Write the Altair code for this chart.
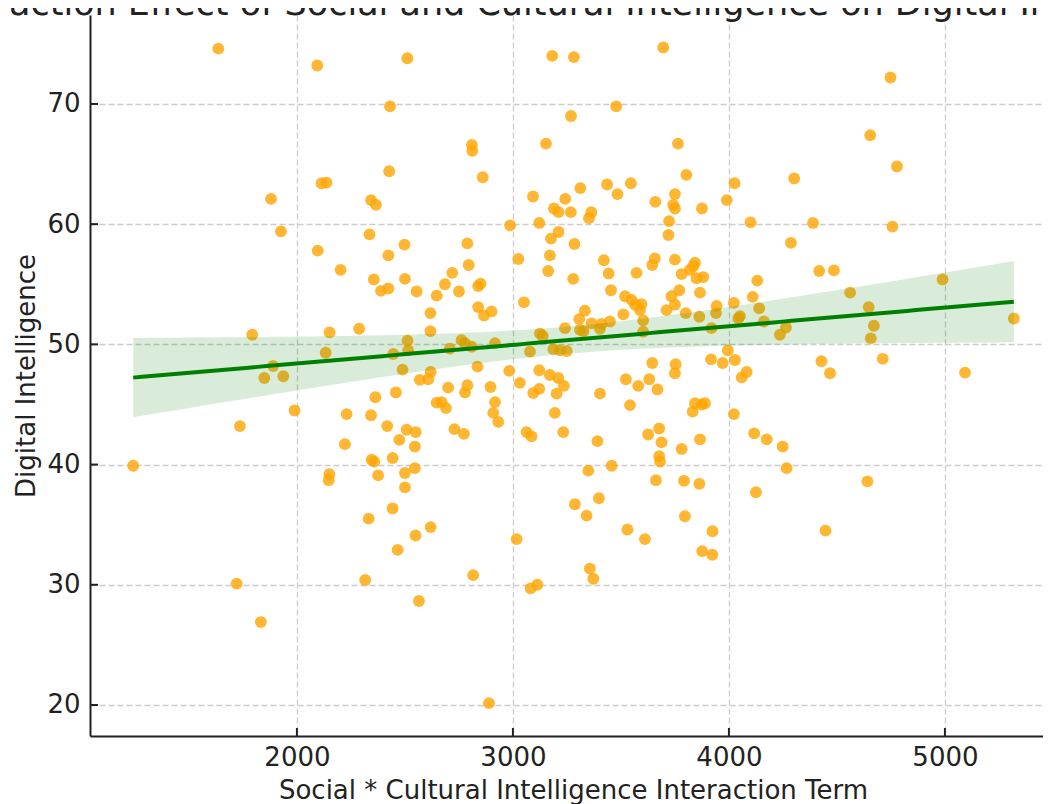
import altair as alt
import numpy as np
import pandas as pd

TITLE = "Interaction Effect of Social and Cultural Intelligence on Digital Intelligence"
X_TITLE = "Social * Cultural Intelligence Interaction Term"
Y_TITLE = "Digital Intelligence"

# ---- data (x = interaction term, y = digital intelligence) ----
top_x = [1636, 2094, 2511, 2431, 2427, 2114, 2137, 1880, 2343, 2366, 1926, 2336, 2498, 2096, 2423,
         3182, 3282, 3696, 3478, 3269, 2810, 2812, 3153, 3764, 2860, 3803, 3436, 3546, 3312, 3484,
         3750, 3093, 3242, 3659, 3990, 3742, 3750, 3875, 3190, 3211, 3268, 3363, 3352, 2987, 3122,
         3723, 3211, 3176, 3720, 2789, 3285,
         4748, 4654, 4778, 4302, 4026, 4100, 4389, 4757, 4287]
top_y = [74.6, 73.2, 73.8, 69.8, 64.4, 63.4, 63.45, 62.1, 62.0, 61.6, 59.4, 59.15, 58.3, 57.8, 57.4,
         74.0, 73.9, 74.7, 69.8, 69.0, 66.6, 66.1, 66.7, 66.7, 63.9, 64.1, 63.3, 63.4, 63.0, 62.5,
         62.5, 62.3, 62.1, 61.85, 62.0, 61.6, 61.3, 61.3, 61.3, 61.0, 61.0, 61.0, 60.5, 59.9, 60.1,
         60.25, 59.35, 58.8, 59.1, 58.4, 58.35,
         72.2, 67.4, 64.8, 63.8, 63.4, 60.15, 60.1, 59.8, 58.45]

left_x = [2202, 2356, 2500, 2389, 2423, 1793, 2151, 2288, 2512, 2515, 2133, 2446, 1890, 1849, 1937,
          2489, 2458, 2363, 1989, 2230, 2343, 2418, 1736, 2508, 2474, 2222, 1242, 2346, 2358, 2443,
          2150, 2147, 2376, 2500, 2500]
left_y = [56.2, 55.4, 55.45, 54.45, 54.65, 50.8, 51.0, 51.3, 50.3, 49.5, 49.3, 49.2, 48.2, 47.2, 47.35,
          47.9, 46.0, 45.6, 44.5, 44.2, 44.1, 43.2, 43.2, 42.9, 42.05, 41.7, 39.9, 40.4, 40.25, 40.55,
          39.2, 38.7, 39.1, 39.3, 38.1]

center_x = [3025, 3171, 3163, 3421, 3443, 3279, 3657, 3645, 3750, 3843, 3835, 3781, 3819, 3881, 3850,
            3572, 2795, 2719, 2554, 2685, 2850, 2839, 2647, 2750, 3454, 3519, 3549, 3770, 3866, 3734,
            3051, 2839, 2866, 2901, 2618, 3595, 3565, 3588, 3603, 3511, 3333, 3307, 3364, 3410, 3449,
            3711, 3750, 3800, 3863, 3943, 3940, 3919, 3603, 3241, 3310, 3326, 3403, 3125, 3138, 2618,
            2708, 2762, 2778, 2809, 2917, 3079, 3187, 3218, 3249, 2836, 2983, 3122, 2619, 2608, 2569,
            3032, 3171, 3210, 3236, 3202, 3094, 3122, 2789, 2778, 2700, 2896, 2647, 2670, 2690, 2917,
            2909, 2932, 3194, 3403, 3523, 3580, 3631, 3669, 3645, 3753, 3750, 3542, 3917, 3971, 3843,
            3874, 3889, 3832, 2729, 2773, 3063, 3086, 3233, 3391, 2550, 2546, 3626, 3677, 3688, 3781,
            3866, 3677, 3681, 3349, 3457, 2546, 3662, 3792, 3863]
center_y = [57.1, 57.4, 56.1, 57.0, 55.9, 55.45, 57.15, 56.6, 57.05, 56.8, 56.5, 55.85, 56.2, 55.6, 55.5,
            55.95, 56.6, 55.95, 54.4, 55.0, 55.05, 54.85, 54.05, 54.4, 54.5, 54.0, 53.7, 54.5, 54.3, 54.0,
            53.5, 53.1, 52.4, 52.75, 52.6, 53.35, 53.3, 52.85, 52.0, 52.5, 52.8, 52.1, 51.75, 51.7, 51.9,
            52.85, 53.3, 52.6, 52.3, 53.2, 52.6, 51.35, 51.05, 51.35, 51.2, 51.1, 51.3, 50.9, 50.7, 51.1,
            49.65, 50.35, 50.1, 49.8, 50.1, 49.4, 49.6, 49.5, 49.45, 48.15, 47.8, 47.85, 47.7, 47.1, 47.05,
            46.8, 47.45, 47.2, 46.55, 45.9, 45.95, 46.3, 46.6, 46.0, 46.4, 46.45, 45.15, 45.2, 44.7, 45.2,
            44.3, 43.55, 44.3, 45.9, 47.1, 46.55, 47.1, 46.25, 48.45, 48.35, 47.6, 44.95, 48.75, 48.45, 45.1,
            45.0, 45.1, 44.4, 42.95, 42.55, 42.7, 42.35, 42.7, 41.95, 42.7, 41.5, 42.5, 43.0, 41.85, 41.3,
            42.1, 40.7, 40.25, 39.5, 39.9, 39.7, 38.7, 38.65, 38.4]

right_x = [4418, 4486, 4131, 4110, 4023, 4140, 4051, 4043, 4162, 4264, 4236, 4561, 4647, 4671, 4657,
           4989, 5319, 3995, 4028, 4082, 4059, 4428, 4468, 4712, 5093, 4023, 4117, 4175, 4249, 4267,
           4641, 4125]
right_y = [56.1, 56.15, 55.3, 53.95, 53.45, 53.0, 52.35, 52.15, 51.9, 51.4, 50.8, 54.3, 53.1, 51.55, 50.5,
           55.4, 52.15, 49.5, 48.7, 47.7, 47.25, 48.6, 47.6, 48.8, 47.65, 44.2, 42.6, 42.1, 41.5, 39.7,
           38.6, 37.7]

low_x = [2443, 2332, 2466, 2549, 2619, 2316, 1721, 1833, 2565, 3017, 2816, 2889, 3082, 3113, 3287,
         3341, 3398, 3356, 3372, 3530, 3611, 3796, 3924, 3876, 3923, 4447]
low_y = [36.35, 35.5, 32.9, 34.1, 34.8, 30.4, 30.1, 26.9, 28.65, 33.8, 30.8, 20.15, 29.7, 30.0, 36.7,
         35.75, 37.2, 31.35, 30.5, 34.6, 33.8, 35.7, 34.45, 32.8, 32.5, 34.5]

x_ticks = [2000, 3000, 4000, 5000]
y_ticks = [20, 30, 40, 50, 60, 70]

xs = top_x + left_x + center_x + right_x + low_x
ys = top_y + left_y + center_y + right_y + low_y
pts = pd.DataFrame({"x": xs, "y": ys})

# ---- least-squares fit with 95% confidence band, computed from the points ----
xa = np.asarray(xs, dtype=float)
ya = np.asarray(ys, dtype=float)
n = len(xa)
b1, b0 = np.polyfit(xa, ya, 1)
grid = np.linspace(xa.min(), xa.max(), 100)
pred = b0 + b1 * grid
resid = ya - (b0 + b1 * xa)
s = np.sqrt((resid ** 2).sum() / (n - 2))
sxx = ((xa - xa.mean()) ** 2).sum()
se = s * np.sqrt(1.0 / n + (grid - xa.mean()) ** 2 / sxx)
fit = pd.DataFrame({"x": grid, "fit": pred, "lo": pred - 1.969 * se, "hi": pred + 1.969 * se})

W, H = 953, 721
xscale = alt.Scale(domain=[1042, 5454], nice=False, zero=False)
yscale = alt.Scale(domain=[17.42, 77.40], nice=False, zero=False)

xaxis = alt.Axis(values=x_ticks, format="d", title=X_TITLE, grid=True, ticks=False, tickSize=0,
                 labelPadding=29, labelBaseline="alphabetic", labelFlush=False,
                 titleX=483, titleY=62, titleBaseline="alphabetic", titleAlign="center")
yaxis = alt.Axis(values=y_ticks, format="d", title=Y_TITLE, grid=True, ticks=False, tickSize=0,
                 labelPadding=10, labelFlush=False,
                 titleX=-56, titleY=360.5, titleAngle=270, titleBaseline="alphabetic",
                 titleAlign="center")

points = alt.Chart(pts).mark_circle(size=140, color="#FFA500", opacity=0.8).encode(
    x=alt.X("x:Q", scale=xscale, axis=xaxis),
    y=alt.Y("y:Q", scale=yscale, axis=yaxis),
)

band = alt.Chart(fit).mark_area(color="#008000", opacity=0.15).encode(
    x=alt.X("x:Q", scale=xscale, axis=xaxis),
    y=alt.Y("lo:Q", scale=yscale, axis=yaxis),
    y2="hi:Q",
)

line = alt.Chart(fit).mark_line(color="#008000", strokeWidth=4).encode(
    x=alt.X("x:Q", scale=xscale, axis=xaxis),
    y=alt.Y("fit:Q", scale=yscale, axis=yaxis),
)

xtick = alt.Chart(pd.DataFrame({"v": x_ticks})).mark_rule(color="#222222", strokeWidth=2).encode(
    x=alt.X("v:Q", scale=xscale, axis=xaxis),
    y=alt.value(H),
    y2=alt.value(H - 8),
)

ytick = alt.Chart(pd.DataFrame({"v": y_ticks})).mark_rule(color="#222222", strokeWidth=2).encode(
    y=alt.Y("v:Q", scale=yscale, axis=yaxis),
    x=alt.value(0),
    x2=alt.value(8),
)

chart = alt.layer(points, band, line, xtick, ytick).properties(
    width=W,
    height=H,
    title=alt.Title(TITLE, fontSize=35, font="DejaVu Sans", fontWeight="normal", color="#222222",
                    anchor="middle", frame="group", offset=0, dy=7, dx=8.5),
    autosize=alt.AutoSizeParams(type="none"),
    padding={"left": 82, "top": 7, "right": 0, "bottom": 68},
).configure_view(stroke=None).configure_axis(
    labelFont="DejaVu Sans", labelFontSize=26, labelColor="#222222",
    titleFont="DejaVu Sans", titleFontSize=26, titleFontWeight="normal", titleColor="#222222",
    domainColor="#222222", domainWidth=2,
    gridColor="#cccccc", gridDash=[6, 3], gridWidth=1.3,
)

chart.save("out.html", embed_options={"renderer": "svg", "actions": False})
